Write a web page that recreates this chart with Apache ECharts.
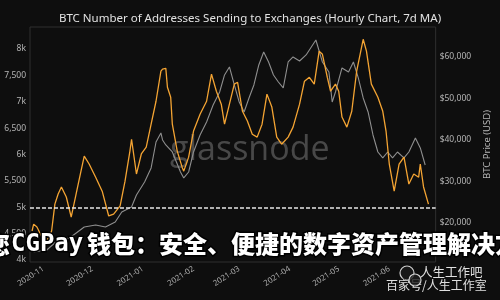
<!DOCTYPE html>
<html>
<head>
<meta charset="utf-8">
<script src="https://cdn.jsdelivr.net/npm/echarts@6/dist/echarts.min.js"></script>
<style>
html,body{margin:0;padding:0;background:#0e0e0e;}
#chart{width:500px;height:300px;}
</style>
</head>
<body>
<div id="chart"></div>
<script>
// ---- data ----
const titleText = 'BTC Number of Addresses Sending to Exchanges (Hourly Chart, 7d MA)';
const addrDates = ['2020-10-25','2020-10-26','2020-10-28','2020-10-31','2020-11-03','2020-11-06','2020-11-08','2020-11-10','2020-11-12','2020-11-15','2020-11-18','2020-11-21','2020-11-24','2020-11-26','2020-11-29','2020-12-03','2020-12-07','2020-12-11','2020-12-14','2020-12-18','2020-12-21','2020-12-24','2020-12-25','2020-12-28','2020-12-31','2021-01-03','2021-01-06','2021-01-09','2021-01-12','2021-01-13','2021-01-15','2021-01-16','2021-01-18','2021-01-19','2021-01-22','2021-01-25','2021-01-26','2021-01-29','2021-02-01','2021-02-05','2021-02-09','2021-02-12','2021-02-15','2021-02-18','2021-02-20','2021-02-23','2021-02-26','2021-02-28','2021-03-03','2021-03-06','2021-03-09','2021-03-12','2021-03-15','2021-03-18','2021-03-21','2021-03-24','2021-03-27','2021-03-31','2021-04-03','2021-04-07','2021-04-10','2021-04-13','2021-04-16','2021-04-19','2021-04-21','2021-04-24','2021-04-26','2021-04-29','2021-05-01','2021-05-03','2021-05-06','2021-05-09','2021-05-12','2021-05-16','2021-05-18','2021-05-21','2021-05-25','2021-05-28','2021-05-30','2021-06-01','2021-06-04','2021-06-07','2021-06-10','2021-06-13','2021-06-16','2021-06-19','2021-06-20','2021-06-22','2021-06-25'];
const addrValues = [4550,4680,4625,4435,4360,4550,5060,5250,5385,5195,4815,5250,5685,5970,5820,5570,5305,4835,4870,5025,5495,6065,6290,5630,6010,6140,6575,7010,7580,7620,7635,7275,7085,6575,6065,5760,5685,5950,6445,6765,7010,7525,7200,6955,6575,6955,7335,7370,6820,6635,6385,6330,6575,7145,6900,6330,6195,6330,6520,6955,7390,7465,7335,7960,7900,7465,7200,7335,7200,6710,6520,6820,7580,8185,7960,7335,7085,6820,6445,5820,5305,5820,5950,5440,5630,5570,5820,5385,5060];
const priceDates = ['2020-10-26','2020-11-03','2020-11-10','2020-11-17','2020-11-26','2020-12-03','2020-12-09','2020-12-15','2020-12-19','2020-12-25','2020-12-28','2021-01-02','2021-01-06','2021-01-09','2021-01-12','2021-01-13','2021-01-15','2021-01-19','2021-01-24','2021-01-26','2021-01-29','2021-02-01','2021-02-05','2021-02-09','2021-02-13','2021-02-17','2021-02-20','2021-02-23','2021-02-26','2021-03-01','2021-03-04','2021-03-07','2021-03-10','2021-03-13','2021-03-16','2021-03-19','2021-03-22','2021-03-25','2021-03-28','2021-03-31','2021-04-03','2021-04-07','2021-04-11','2021-04-15','2021-04-17','2021-04-21','2021-04-25','2021-04-27','2021-04-29','2021-05-03','2021-05-07','2021-05-10','2021-05-13','2021-05-16','2021-05-19','2021-05-22','2021-05-25','2021-05-28','2021-05-31','2021-06-03','2021-06-06','2021-06-10','2021-06-13','2021-06-17','2021-06-20','2021-06-23'];
const priceValues = [13010,13490,15900,16390,19040,19520,19040,20240,22650,23860,26750,29880,33260,39520,41690,40000,38800,37110,32290,30850,32290,37110,41210,44340,48440,51570,55670,57600,53260,49160,46750,50130,53260,58080,61210,58800,55670,53980,52540,58800,60010,59040,60490,62900,64100,58800,56390,49160,51570,57360,56390,58800,54950,50130,46750,41210,37110,35670,37110,35670,37110,35670,37110,40490,38080,33980];
const monthTicks = ['2020-11-01','2020-12-01','2021-01-01','2021-02-01','2021-03-01','2021-04-01','2021-05-01','2021-06-01'];
const monthLabels = ['2020-11','2020-12','2021-01','2021-02','2021-03','2021-04','2021-05','2021-06'];
const addrTicks = [4000,4500,5000,5500,6000,6500,7000,7500,8000];
const addrTickLabels = ['4k','4,500','5k','5,500','6k','6,500','7k','7,500','8k'];
const priceTicks = [20000,30000,40000,50000,60000];
const priceTickLabels = ['$20,000','$30,000','$40,000','$50,000','$60,000'];
const thresholdValue = 5000;
const overlayHead = '您';
const overlayLatin = 'CGPay';
const overlayTail = '钱包：安全、便捷的数字资产管理解决方案';

// ---- build ----
const ts = s => Date.parse(s);
const addrData = addrDates.map((d, i) => [ts(d), addrValues[i]]);
const priceData = priceDates.map((d, i) => [ts(d), priceValues[i]]);
const monthTs = monthTicks.map(ts);

const overlayStyle = {fill: '#ffffff', stroke: '#000000', lineWidth: 3, verticalAlign: 'middle'};

const chart = echarts.init(document.getElementById('chart'), null, {renderer: 'canvas'});
chart.setOption({
  backgroundColor: '#0e0e0e',
  animation: false,
  title: {
    text: titleText, left: 'center', top: 8,
    textStyle: {color: '#e2e2e2', fontSize: 11.5, fontWeight: 'normal', fontFamily: 'Noto Sans'}
  },
  grid: {left: 30, right: 48, top: 27, bottom: 38, show: true, borderColor: '#2e2e2e', borderWidth: 1, backgroundColor: 'transparent'},
  xAxis: {
    type: 'value',
    min: ts('2020-10-23T18:00:00Z'), max: ts('2021-06-29T10:00:00Z'),
    axisLine: {show: false}, axisTick: {show: false}, splitLine: {show: false},
    axisLabel: {
      customValues: monthTs, rotate: 33, color: '#aaaaaa', fontSize: 8, margin: 6,
      fontFamily: 'Noto Sans',
      formatter: v => { const i = monthTs.indexOf(v); return i >= 0 ? monthLabels[i] : ''; }
    }
  },
  yAxis: [
    {
      type: 'value', position: 'left', min: 3962, max: 8418,
      axisLine: {show: false}, axisTick: {show: false}, splitLine: {show: false},
      axisLabel: {
        customValues: addrTicks, color: '#b5b5b5', fontSize: 8.5, margin: 4, fontFamily: 'Noto Sans',
        formatter: v => { const i = addrTicks.indexOf(v); return i >= 0 ? addrTickLabels[i] : ''; }
      }
    },
    {
      type: 'value', position: 'right', min: 10602, max: 67229,
      name: 'BTC Price (USD)', nameLocation: 'middle', nameGap: 36,
      nameTextStyle: {color: '#b5b5b5', fontSize: 9.5, fontFamily: 'Noto Sans'},
      axisLine: {show: false}, axisTick: {show: false}, splitLine: {show: false},
      axisLabel: {
        customValues: priceTicks, color: '#b5b5b5', fontSize: 8.5, margin: 4, fontFamily: 'Noto Sans',
        formatter: v => { const i = priceTicks.indexOf(v); return i >= 0 ? priceTickLabels[i] : ''; }
      }
    }
  ],
  series: [
    {
      name: 'BTC Price', type: 'line', yAxisIndex: 1, data: priceData,
      showSymbol: false, smooth: false, z: 3,
      lineStyle: {color: '#8f8f8f', width: 1.1}
    },
    {
      name: 'Addresses', type: 'line', yAxisIndex: 0, data: addrData,
      showSymbol: false, smooth: false, z: 4,
      lineStyle: {color: '#f4a433', width: 1.3},
      markLine: {
        silent: true, symbol: 'none', label: {show: false},
        lineStyle: {color: '#e6e6e6', width: 1.5, type: [4, 2]},
        data: [{yAxis: thresholdValue}]
      }
    }
  ],
  graphic: [
    {type: 'text', x: 170, y: 150, z: 1, silent: true,
      style: {text: 'glassnode', fill: 'rgba(120,120,120,0.55)', font: '34px "Open Sans"', verticalAlign: 'middle'}},
    {type: 'text', x: -14, y: 245, z: 100, silent: true,
      style: Object.assign({text: overlayHead, font: '900 24px "Noto Sans CJK SC"'}, overlayStyle)},
    {type: 'text', x: 11, y: 245, z: 100, silent: true,
      style: Object.assign({text: overlayLatin, font: 'bold 24px "DejaVu Sans Mono"'}, overlayStyle)},
    {type: 'text', x: 87, y: 244, z: 100, silent: true,
      style: Object.assign({text: overlayTail, font: '900 24px "Noto Sans CJK SC"'}, overlayStyle)},
    {type: 'circle', z: 100, silent: true, shape: {cx: 407, cy: 273, r: 7},
      style: {fill: 'rgba(30,30,30,0.6)', stroke: '#cfcfcf', lineWidth: 1.2}},
    {type: 'circle', z: 101, silent: true, shape: {cx: 415, cy: 280, r: 6},
      style: {fill: 'rgba(30,30,30,0.8)', stroke: '#cfcfcf', lineWidth: 1.2}},
    {type: 'text', x: 420, y: 272, z: 100, silent: true,
      style: {text: '人生工作吧', fill: '#e0e0e0', stroke: '#111', lineWidth: 1, font: '12.5px "Noto Sans CJK SC"', verticalAlign: 'middle'}},
    {type: 'text', x: 386, y: 285, z: 100, silent: true,
      style: {text: '百家号/人生工作室', fill: '#e0e0e0', stroke: '#111', lineWidth: 1, font: '12px "Noto Sans CJK SC"', verticalAlign: 'middle'}}
  ]
});
</script>
</body>
</html>
